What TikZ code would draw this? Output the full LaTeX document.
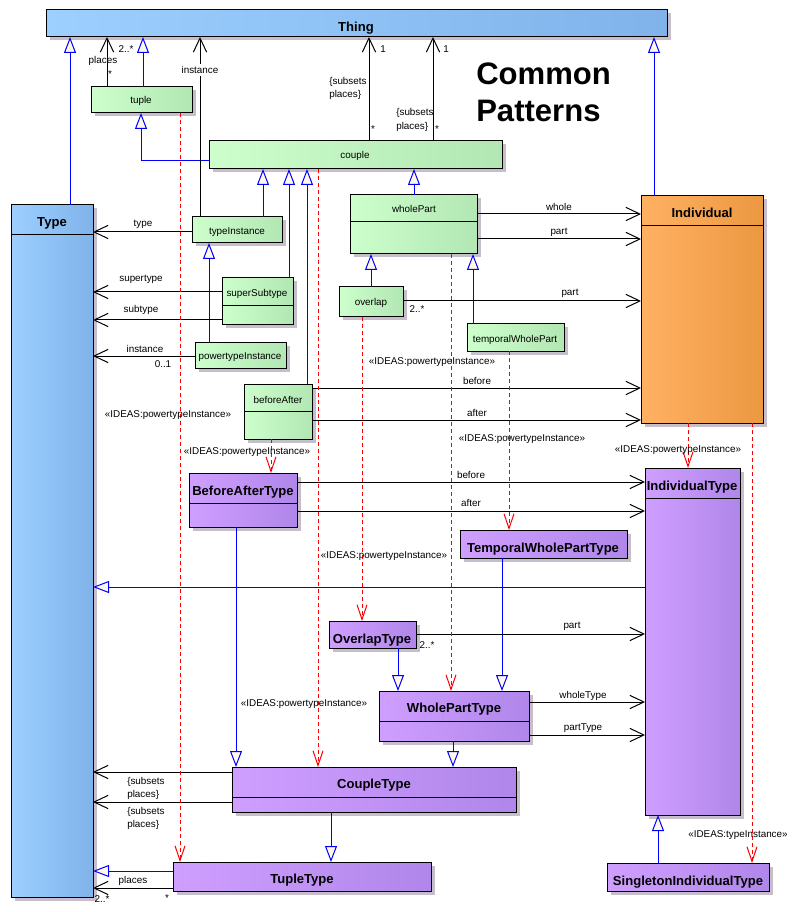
\documentclass[tikz,border=0pt]{standalone}
\usepackage{fontspec}
\setmainfont{Liberation Sans}
\usetikzlibrary{arrows.meta}
\definecolor{blueL}{HTML}{9DCFFF}
\definecolor{blueR}{HTML}{7FB3EA}
\definecolor{greenL}{HTML}{CCFFCC}
\definecolor{greenR}{HTML}{B2E6B2}
\definecolor{orangeL}{HTML}{FFB162}
\definecolor{orangeR}{HTML}{EC9842}
\definecolor{purpleL}{HTML}{CF9FFF}
\definecolor{purpleR}{HTML}{B086EA}
\definecolor{shadowc}{HTML}{C6BECB}
\definecolor{cream}{HTML}{FFF8E8}
\definecolor{genblue}{HTML}{0000FF}
\definecolor{depred}{HTML}{FF0000}
\tikzset{
  box/.style={draw=black,line width=0.75pt,anchor=north west,inner sep=0pt,outer sep=0pt},
  shadowbox/.style={fill=shadowc},
  blueb/.style={box,left color=blueL,right color=blueR},
  greenb/.style={box,left color=greenL,middle color=greenL!60!greenR,right color=greenR},
  orangeb/.style={box,left color=orangeL,right color=orangeR},
  purpleb/.style={box,left color=purpleL,right color=purpleR},
  cname/.style={font=\fontsize{9.8}{11}\selectfont\bfseries,anchor=base,inner sep=0pt},
  gname/.style={font=\fontsize{7.4}{9}\selectfont,anchor=base,inner sep=0pt},
  lbl/.style={font=\fontsize{7.4}{9}\selectfont,inner sep=0pt},
  gen/.style={draw=genblue,line width=0.75pt,-{Triangle[length=12pt,width=9pt,fill=cream]}},
  assoc/.style={draw=black,line width=0.75pt,-{Straight Barb[length=10.5pt,width=10pt]}},
  dep/.style={draw=depred,line width=0.75pt,dash pattern=on 3pt off 2.25pt,-{Straight Barb[length=11pt,width=7.5pt]}},
  divl/.style={draw=black,line width=0.75pt}
}
\newcommand\ubox[6]{\fill[shadowbox] (#3+3.5,#4+3.5) rectangle (#5+3.5,#6+3.5);
  \node[#2,minimum width={(#5-#3)*0.75pt},minimum height={(#6-#4)*0.75pt}] (#1) at (#3,#4) {};}
\newcommand\udiv[2]{\draw[divl] (#1.west |- 0,#2) -- (#1.east |- 0,#2);}
\begin{document}
\begin{tikzpicture}[x=0.75pt,y=-0.75pt]
\useasboundingbox (0,0) rectangle (796,912);
% boxes
\ubox{Thing}{blueb}{46}{10}{667}{37}
\ubox{Type}{blueb}{11}{205}{93}{897}\udiv{Type}{235}
\ubox{tuple}{greenb}{91}{87}{192}{113}
\ubox{couple}{greenb}{209}{141}{502}{169}
\ubox{typeInstance}{greenb}{192}{217}{282}{243}
\ubox{superSubtype}{greenb}{222}{278}{293}{325}\udiv{superSubtype}{306}
\ubox{powertypeInstance}{greenb}{195}{342}{286}{368}
\ubox{beforeAfter}{greenb}{244}{384}{312}{439}\udiv{beforeAfter}{411}
\ubox{overlap}{greenb}{339}{287}{403}{317}
\ubox{wholePart}{greenb}{350}{195}{477}{254}\udiv{wholePart}{222}
\ubox{temporalWholePart}{greenb}{467}{324}{564}{351}
\ubox{Individual}{orangeb}{641}{196}{763}{423}\udiv{Individual}{226}
\ubox{BeforeAfterType}{purpleb}{189}{473}{297}{527}\udiv{BeforeAfterType}{503}
\ubox{IndividualType}{purpleb}{645}{468}{740}{815}\udiv{IndividualType}{498}
\ubox{TemporalWholePartType}{purpleb}{460}{530}{627}{558}
\ubox{OverlapType}{purpleb}{329}{621}{416}{648}
\ubox{WholePartType}{purpleb}{379}{691}{529}{741}\udiv{WholePartType}{721}
\ubox{CoupleType}{purpleb}{232}{767}{516}{812}\udiv{CoupleType}{797}
\ubox{TupleType}{purpleb}{173}{862}{431}{891}
\ubox{SingletonIndividualType}{purpleb}{607}{863}{769}{891}
% names
\node[cname] (nThing) at (356,32) {Thing};
\node[cname] (nType) at (52,227) {Type};
\node[gname] (ntuple) at (141,104) {tuple};
\node[gname] (ncouple) at (355,159) {couple};
\node[gname] (ntypeInstance) at (237,235) {typeInstance};
\node[gname] (nsuperSubtype) at (257,297) {superSubtype};
\node[gname] (npowertypeInstance) at (240,359) {powertypeInstance};
\node[gname] (nbeforeAfter) at (278,403) {beforeAfter};
\node[gname] (noverlap) at (371,306) {overlap};
\node[gname] (nwholePart) at (414,213) {wholePart};
\node[gname] (ntemporalWholePart) at (515,343) {temporalWholePart};
\node[cname] (nIndividual) at (702,218) {Individual};
\node[cname] (nBeforeAfterType) at (243,495) {BeforeAfterType};
\node[cname] (nIndividualType) at (692,490) {IndividualType};
\node[cname] (nTemporalWholePartType) at (543,552) {TemporalWholePartType};
\node[cname] (nOverlapType) at (372,643) {OverlapType};
\node[cname] (nWholePartType) at (454,712) {WholePartType};
\node[cname] (nCoupleType) at (374,788) {CoupleType};
\node[cname] (nTupleType) at (302,883) {TupleType};
\node[cname] (nSingletonIndividualType) at (688,885) {SingletonIndividualType};
\node[font=\fontsize{23.3}{28}\selectfont\bfseries,anchor=base west,inner sep=0pt] (title1) at (476,85) {Common};
\node[font=\fontsize{23.3}{28}\selectfont\bfseries,anchor=base west,inner sep=0pt] (title2) at (476,122) {Patterns};
% generalizations
\draw[gen] (70,0 |- Type.north) -- (70,0 |- Thing.south);
\draw[gen] (143,0 |- tuple.north) -- (143,0 |- Thing.south);
\draw[gen] (654,0 |- Individual.north) -- (654,0 |- Thing.south);
\draw[gen] (couple.west |- 0,161) -| (141,0 |- tuple.south);
\draw[gen] (263,0 |- typeInstance.north) -- (263,0 |- couple.south);
\draw[gen] (289,0 |- superSubtype.north) -- (289,0 |- couple.south);
\draw[gen] (307,0 |- beforeAfter.north) -- (307,0 |- couple.south);
\draw[gen] (414,0 |- wholePart.north) -- (414,0 |- couple.south);
\draw[gen] (209,0 |- powertypeInstance.north) -- (209,0 |- typeInstance.south);
\draw[gen] (371,0 |- overlap.north) -- (371,0 |- wholePart.south);
\draw[gen] (473,0 |- temporalWholePart.north) -- (473,0 |- wholePart.south);
\draw[gen] (IndividualType.west |- 0,587) -- (Type.east |- 0,587);
\draw[gen] (236,0 |- BeforeAfterType.south) -- (236,0 |- CoupleType.north);
\draw[gen] (502,0 |- TemporalWholePartType.south) -- (502,0 |- WholePartType.north);
\draw[gen] (398,0 |- OverlapType.south) -- (398,0 |- WholePartType.north);
\draw[gen] (453,0 |- WholePartType.south) -- (453,0 |- CoupleType.north);
\draw[gen] (331,0 |- CoupleType.south) -- (331,0 |- TupleType.north);
\draw[gen] (TupleType.west |- 0,871) -- (Type.east |- 0,871);
\draw[gen] (658,0 |- SingletonIndividualType.north) -- (658,0 |- IndividualType.south);
% associations
\draw[assoc] (107,0 |- tuple.north) -- (107,0 |- Thing.south);
\draw[assoc] (200,0 |- typeInstance.north) -- (200,0 |- Thing.south);
\draw[assoc] (369,0 |- couple.north) -- (369,0 |- Thing.south);
\draw[assoc] (433,0 |- couple.north) -- (433,0 |- Thing.south);
\draw[assoc] (typeInstance.west |- 0,232) -- (Type.east |- 0,232);
\draw[assoc] (superSubtype.west |- 0,292) -- (Type.east |- 0,292);
\draw[assoc] (superSubtype.west |- 0,320) -- (Type.east |- 0,320);
\draw[assoc] (powertypeInstance.west |- 0,356) -- (Type.east |- 0,356);
\draw[assoc] (wholePart.east |- 0,214) -- (Individual.west |- 0,214);
\draw[assoc] (wholePart.east |- 0,239) -- (Individual.west |- 0,239);
\draw[assoc] (overlap.east |- 0,301) -- (Individual.west |- 0,301);
\draw[assoc] (beforeAfter.east |- 0,388) -- (Individual.west |- 0,388);
\draw[assoc] (beforeAfter.east |- 0,420) -- (Individual.west |- 0,420);
\draw[assoc] (BeforeAfterType.east |- 0,482) -- (IndividualType.west |- 0,482);
\draw[assoc] (BeforeAfterType.east |- 0,511) -- (IndividualType.west |- 0,511);
\draw[assoc] (OverlapType.east |- 0,634) -- (IndividualType.west |- 0,634);
\draw[assoc] (WholePartType.east |- 0,702) -- (IndividualType.west |- 0,702);
\draw[assoc] (WholePartType.east |- 0,735) -- (IndividualType.west |- 0,735);
\draw[assoc] (CoupleType.west |- 0,772) -- (Type.east |- 0,772);
\draw[assoc] (CoupleType.west |- 0,802) -- (Type.east |- 0,802);
\draw[assoc] (TupleType.west |- 0,888) -- (Type.east |- 0,888);
% dependencies
\draw[dep] (180,0 |- tuple.south) -- (180,0 |- TupleType.north);
\draw[dep] (318,0 |- couple.south) -- (318,0 |- CoupleType.north);
\draw[dep] (271,0 |- beforeAfter.south) -- (271,0 |- BeforeAfterType.north);
\draw[dep] (362,0 |- overlap.south) -- (362,0 |- OverlapType.north);
\draw[dep] (451,0 |- wholePart.south) -- (451,0 |- WholePartType.north);
\draw[dep] (509,0 |- temporalWholePart.south) -- (509,0 |- TemporalWholePartType.north);
\draw[dep] (688,0 |- Individual.south) -- (688,0 |- IndividualType.north);
\draw[dep] (752,0 |- Individual.south) -- (752,0 |- SingletonIndividualType.north);
% association labels
\node[lbl] (l1) at (103,61) {places};
\node[lbl] (l2) at (110,74) {*};
\node[lbl] (l3) at (126,49) {2..*};
\node[lbl,fill=white,inner ysep=1.5pt] (l4) at (200,70) {instance};
\node[lbl,anchor=west] (l5) at (329,82) {\{subsets};
\node[lbl,anchor=west] (l6) at (329,95) {places\}};
\node[lbl] (l7) at (383,49) {1};
\node[lbl] (l8) at (373,129) {*};
\node[lbl,anchor=west] (l9) at (396,113) {\{subsets};
\node[lbl,anchor=west] (l10) at (396,127) {places\}};
\node[lbl] (l11) at (446,49) {1};
\node[lbl] (l12) at (437,129) {*};
\node[lbl] (l13) at (143,224) {type};
\node[lbl] (l14) at (141,279) {supertype};
\node[lbl] (l15) at (141,310) {subtype};
\node[lbl] (l16) at (145,349) {instance};
\node[lbl] (l17) at (163,364) {0..1};
\node[lbl] (l18) at (559,207) {whole};
\node[lbl] (l19) at (559,232) {part};
\node[lbl] (l20) at (570,293) {part};
\node[lbl] (l21) at (417,309) {2..*};
\node[lbl] (l22) at (477,381) {before};
\node[lbl] (l23) at (477,413) {after};
\node[lbl] (l24) at (471,475) {before};
\node[lbl] (l25) at (471,503) {after};
\node[lbl] (l26) at (572,626) {part};
\node[lbl] (l27) at (427,645) {2..*};
\node[lbl] (l28) at (583,696) {wholeType};
\node[lbl] (l29) at (583,728) {partType};
\node[lbl,anchor=west] (l30) at (127,782) {\{subsets};
\node[lbl,anchor=west] (l31) at (127,795) {places\}};
\node[lbl,anchor=west] (l32) at (127,812) {\{subsets};
\node[lbl,anchor=west] (l33) at (127,825) {places\}};
\node[lbl] (l34) at (133,881) {places};
\node[lbl] (l35) at (102,899) {2..*};
\node[lbl] (l36) at (167,898) {*};
% dependency labels
\node[lbl] (d1) at (168,415) {«IDEAS:powertypeInstance»};
\node[lbl] (d2) at (247,452) {«IDEAS:powertypeInstance»};
\node[lbl] (d3) at (432,362) {«IDEAS:powertypeInstance»};
\node[lbl] (d4) at (522,439) {«IDEAS:powertypeInstance»};
\node[lbl] (d5) at (678,450) {«IDEAS:powertypeInstance»};
\node[lbl] (d6) at (384,556) {«IDEAS:powertypeInstance»};
\node[lbl] (d7) at (304,704) {«IDEAS:powertypeInstance»};
\node[lbl] (d8) at (738,835) {«IDEAS:typeInstance»};
\end{tikzpicture}
\end{document}
